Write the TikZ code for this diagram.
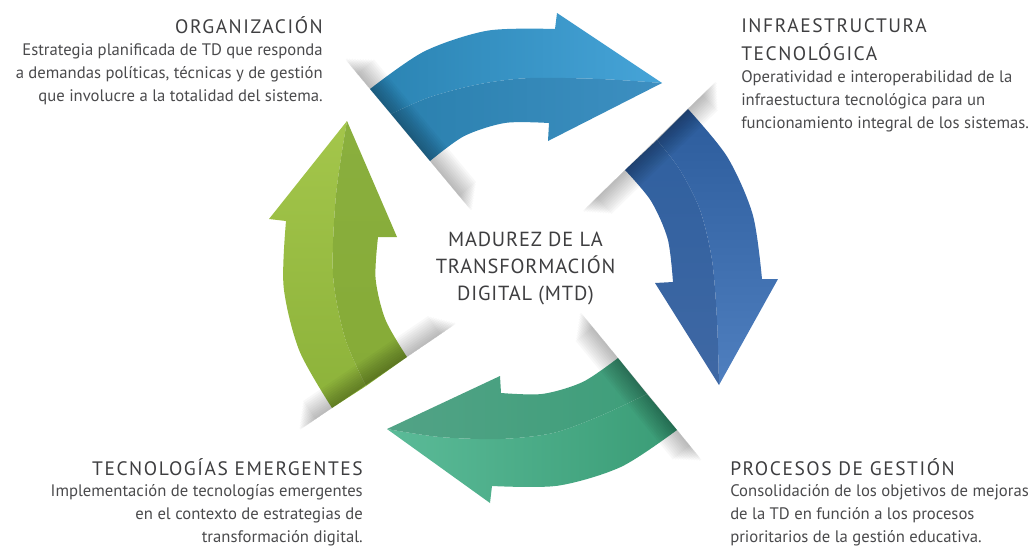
\documentclass[tikz,border=0pt]{standalone}
\usepackage{fontspec}
\setmainfont{PT Sans}
\newfontfamily\headfont[LetterSpace=8]{PT Sans}
\newfontfamily\midfont[LetterSpace=4]{PT Sans}
\usetikzlibrary{calc}
\definecolor{txt}{HTML}{4A4A4C}
\definecolor{hd}{HTML}{3E3E40}
\definecolor{bAL}{HTML}{2A83B2}\definecolor{bAR}{HTML}{46A4D8}
\definecolor{bBL}{HTML}{2A80AE}\definecolor{bBR}{HTML}{3D8FC1}
\definecolor{dAT}{HTML}{2C5C9C}\definecolor{dAB}{HTML}{4F7FBF}
\definecolor{dBT}{HTML}{30609F}\definecolor{dBB}{HTML}{3F68A4}
\definecolor{gAL}{HTML}{5BBB98}\definecolor{gAR}{HTML}{3A9C76}
\definecolor{gBL}{HTML}{52A386}\definecolor{gBR}{HTML}{3E9E7A}
\definecolor{lAT}{HTML}{A4C64B}\definecolor{lAB}{HTML}{8CB23A}
\definecolor{lBT}{HTML}{8AAF3E}\definecolor{lBB}{HTML}{86AB37}
\begin{document}
\begin{tikzpicture}[x=0.75pt,y=-0.75pt,
  body/.style={font=\fontsize{12.5}{17}\selectfont, text=txt, inner sep=0},
  head/.style={font=\headfont\fontsize{14.6}{21}\selectfont, text=hd, inner sep=0},
  center/.style={font=\midfont\fontsize{15.3}{20}\selectfont, text=hd, inner sep=0, align=center},
  shadowlayer/.style={fill=black, opacity=0.028}]
\useasboundingbox (0,0) rectangle (1035,547);

% ---- top blue arrow
\shade[left color=bAL, right color=bAR] (370,89) -- plot[smooth] coordinates {(370,89) (424.3,51.4) (487.8,30.6) (555,29)} -- (557,13) -- (662,83) -- plot[smooth] coordinates {(662,83) (600,79) (530,78) (480,84) (430,97) (391,114)} -- cycle;
\shade[left color=bBL, right color=bBR] (391,114) -- plot[smooth] coordinates {(391,114) (430,97) (480,84) (530,78) (600,79) (662,83)} -- (548,141) -- (549,123) -- plot[smooth] coordinates {(549,123) (505.3,122.9) (464.3,136) (430,161)} -- cycle;

% ---- right dark blue arrow
\shade[top color=dAT, bottom color=dAB] (688,109) -- plot[smooth] coordinates {(688,109) (727.2,156.8) (752.8,214.8) (762,279)} -- (778,279) -- (719,385) -- plot[smooth] coordinates {(719,385) (717,320) (712,260) (700,210) (680,170) (657,140)} -- cycle;
\shade[top color=dBT, bottom color=dBB] (657,140) -- plot[smooth] coordinates {(657,140) (680,170) (700,210) (712,260) (717,320) (719,385)} -- (655,283) -- (673,282) -- plot[smooth] coordinates {(673,282) (667.7,239) (650.9,200.8) (625,170)} -- cycle;

% ---- bottom green arrow
\shade[left color=gAL, right color=gAR] (677,430) -- plot[smooth] coordinates {(677,430) (621.4,466.7) (557.9,485.7) (492,486)} -- (490,503) -- (387,429) -- plot[smooth] coordinates {(387,429) (440,437) (500,439) (553,433) (600,416) (647,394)} -- cycle;
\shade[left color=gBL, right color=gBR] (647,394) -- plot[smooth] coordinates {(647,394) (600,416) (553,433) (500,439) (440,437) (387,429)} -- (500,376) -- (501,393) -- plot[smooth] coordinates {(501,393) (542.6,393.9) (582.9,381.9) (618,358)} -- cycle;

% ---- left lime arrow
\shade[top color=lAT, bottom color=lAB] (332,408) -- plot[smooth] coordinates {(332,408) (299.3,350.6) (283.6,286.6) (286,221)} -- (269,219) -- (347,121) -- plot[smooth] coordinates {(347,121) (336,195) (333,275) (345,338) (366,386)} -- cycle;
\shade[top color=lBT, bottom color=lBB] (366,386) -- plot[smooth] coordinates {(366,386) (345,338) (333,275) (336,195) (347,121)} -- (397,237) -- (378,237) -- plot[smooth] coordinates {(378,237) (375.6,278.8) (385.5,319.9) (407,357)} -- cycle;

% ---- soft fold shadows along the gaps (start, end, unit direction, unit normal)
\foreach \sx/\sy/\ex/\ey/\dx/\dy/\nx/\ny in {
  344.4/58.3/472/211.5/0.640/0.768/0.768/-0.640,
  716.7/80.8/582/211.8/-0.718/0.696/0.696/0.718,
  580/311.6/702.4/460.9/0.634/0.773/-0.773/0.634,
  457/323/298.9/430.5/-0.827/0.562/-0.562/-0.827}{
  \foreach \w in {2,4,...,22}{
    \fill[shadowlayer] ($(\sx,\sy)+0.9*\w*(\dx,\dy)$) -- ($(\ex,\ey)-0.9*\w*(\dx,\dy)$) -- ($(\ex,\ey)-0.9*\w*(\dx,\dy)+\w*(\nx,\ny)$) -- ($(\sx,\sy)+0.9*\w*(\dx,\dy)+\w*(\nx,\ny)$) -- cycle;
  }
}

% ---- texts
\node[head, anchor=base east] (orgh) at (323,33) {ORGANIZACIÓN};
\node[body, anchor=base east, align=right] (orgt) at (323,101) {Estrategia planificada de TD que responda\\a demandas políticas, técnicas y de gestión\\que involucre a la totalidad del sistema.};

\node[head, anchor=base west, align=left] (infh) at (741,60) {INFRAESTRUCTURA\\TECNOLÓGICA};
\node[body, anchor=base west, align=left] (inft) at (741,128) {Operatividad e interoperabilidad de la\\infraestuctura tecnológica para un\\funcionamiento integral de los sistemas.};

\node[head, anchor=base east] (tech) at (363,475) {TECNOLOGÍAS EMERGENTES};
\node[body, anchor=base east, align=right] (tect) at (363,542) {Implementación de tecnologías emergentes\\en el contexto de estrategias de\\transformación digital.};

\node[head, anchor=base west] (proh) at (730,475) {PROCESOS DE GESTIÓN};
\node[body, anchor=base west, align=left] (prot) at (730,542) {Consolidación de los objetivos de mejoras\\de la TD en función a los procesos\\prioritarios de la gestión educativa.};

\node[center, anchor=base] (mtd) at (525.5,300) {MADUREZ DE LA\\TRANSFORMACIÓN\\DIGITAL (MTD)};
\end{tikzpicture}
\end{document}
